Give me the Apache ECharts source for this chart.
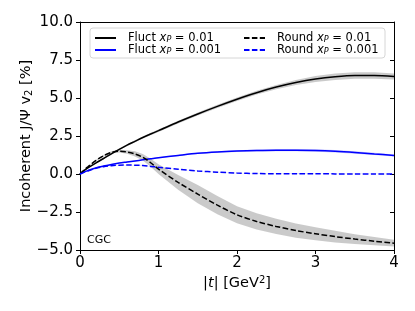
<!DOCTYPE html>
<html>
<head>
<meta charset="utf-8">
<script src="https://cdn.jsdelivr.net/npm/echarts@6/dist/echarts.min.js"></script>
<style>html,body{margin:0;padding:0;background:#fff}#c{width:415px;height:311px}</style>
</head>
<body>
<div id="c"></div>
<script>
// ---- data ----
const t =            [0, 0.05, 0.1, 0.2, 0.3, 0.4, 0.5, 0.6, 0.7, 0.8, 0.9, 1.0, 1.25, 1.5, 1.75, 2.0, 2.25, 2.5, 2.75, 3.0, 3.25, 3.5, 3.75, 4.0];
const fluct01 =      [0, 0.22, 0.40, 0.72, 1.02, 1.33, 1.62, 1.90, 2.15, 2.40, 2.63, 2.85, 3.42, 3.95, 4.45, 4.92, 5.35, 5.72, 6.02, 6.25, 6.40, 6.48, 6.48, 6.42];
const fluct01Err =   [0, 0.02, 0.03, 0.04, 0.05, 0.05, 0.06, 0.06, 0.07, 0.07, 0.08, 0.08, 0.09, 0.10, 0.10, 0.11, 0.12, 0.14, 0.17, 0.20, 0.22, 0.22, 0.21, 0.20];
const round01 =      [0, 0.25, 0.47, 0.88, 1.20, 1.42, 1.50, 1.45, 1.32, 1.10, 0.74, 0.32, -0.55, -1.32, -2.05, -2.68, -3.12, -3.45, -3.72, -3.93, -4.12, -4.28, -4.42, -4.55];
const round01Err =   [0, 0.01, 0.02, 0.04, 0.05, 0.07, 0.09, 0.12, 0.17, 0.22, 0.27, 0.32, 0.48, 0.60, 0.60, 0.56, 0.53, 0.50, 0.47, 0.43, 0.38, 0.32, 0.27, 0.22];
const fluct001 =     [0, 0.12, 0.22, 0.40, 0.52, 0.63, 0.72, 0.79, 0.86, 0.93, 1.00, 1.07, 1.22, 1.36, 1.45, 1.51, 1.55, 1.57, 1.57, 1.55, 1.50, 1.42, 1.32, 1.22];
const fluct001Err =  [0, 0.01, 0.01, 0.02, 0.02, 0.02, 0.02, 0.03, 0.03, 0.03, 0.03, 0.03, 0.04, 0.04, 0.05, 0.06, 0.07, 0.08, 0.08, 0.08, 0.08, 0.08, 0.07, 0.07];
const round001 =     [0, 0.11, 0.20, 0.37, 0.48, 0.55, 0.58, 0.59, 0.58, 0.56, 0.50, 0.44, 0.31, 0.20, 0.12, 0.06, 0.03, 0.02, 0.015, 0.01, 0.008, 0.005, 0.003, 0.0];
const round001Err =  [0, 0.01, 0.01, 0.01, 0.01, 0.01, 0.01, 0.01, 0.01, 0.01, 0.01, 0.01, 0.01, 0.01, 0.01, 0.01, 0.01, 0.01, 0.01, 0.01, 0.01, 0.01, 0.01, 0.01];
const xTicks = [0, 1, 2, 3, 4];
const yRange = [-5, 10];
const yStep = 2.5;
const annotation = 'CGC';

// ---- chart ----
const FONT = 'DejaVu Sans';
const pairs = (ys) => t.map((x, i) => [x, ys[i]]);
const SMOOTH = 0.3;

function band(id, c, e, color) {
  const data = t.map((x, i) => [x, c[i] - e[i], c[i] + e[i]]);
  return {
    type: 'custom', name: id, data: data, silent: true, z: 1, clip: true,
    encode: { x: 0, y: [1, 2] },
    renderItem: function (params, api) {
      if (params.dataIndex !== 0) return null;
      const top = [], bot = [];
      for (let i = 0; i < data.length; i++) {
        top.push(api.coord([data[i][0], data[i][2]]));
        bot.push(api.coord([data[i][0], data[i][1]]));
      }
      const pts = top.concat(bot.reverse());
      return { type: 'polygon', shape: { points: pts }, style: { fill: color, stroke: null } };
    }
  };
}
function line(name, ys, color, dashed) {
  return { type: 'line', name: name, data: pairs(ys), symbol: 'none', smooth: SMOOTH, z: 3,
    lineStyle: { color: color, width: 1.5, type: dashed ? [5.5, 2.4] : 'solid' },
    itemStyle: { color: color } };
}

const rich = {
  n: { fontFamily: FONT, fontSize: 11.5, color: '#000' },
  i: { fontFamily: FONT, fontSize: 11.5, fontStyle: 'italic', color: '#000' },
  s: { fontFamily: FONT, fontSize: 8, fontStyle: 'italic', color: '#000', verticalAlign: 'bottom', padding: [5, 0, 0, 0] },
  p: { width: 7 }
};
const legendFmt = (name) => {
  const [kind, val] = name.split('|');
  return '{p|}{n|' + kind + ' }{i|x}{s|P}{n| = ' + val + '}';
};

const names = ['Fluct|0.01', 'Fluct|0.001', 'Round|0.01', 'Round|0.001'];
const fmtY = (v) => (v < 0 ? '\u2212' : '') + Math.abs(v).toFixed(1);

const legendBase = { orient: 'vertical', top: 32, padding: 0, itemWidth: 21, itemHeight: 10, itemGap: 0,
  formatter: legendFmt, textStyle: { rich: rich, lineHeight: 11 }, z: 10, selectedMode: false,
  itemStyle: { opacity: 0 } };

const option = {
  animation: false,
  backgroundColor: '#fff',
  grid: { left: 80, right: 21, top: 22, bottom: 61, containLabel: false },
  title: { text: annotation, left: 82, top: 230, textStyle: { fontFamily: FONT, fontSize: 11, fontWeight: 'normal', color: '#000' } },
  graphic: [{ type: 'rect', shape: { x: 90, y: 28, width: 295, height: 30, r: 3 },
    style: { fill: 'rgba(255,255,255,0.8)', stroke: '#d6d6d6', lineWidth: 1 }, z: 5 }],
  legend: [
    Object.assign({ data: [names[0], names[1]], left: 94 }, legendBase),
    Object.assign({ data: [names[2], names[3]], left: 243 }, legendBase)
  ],
  xAxis: [
    { type: 'value', min: xTicks[0], max: xTicks[xTicks.length - 1], interval: 1,
      name: '{b||}{it|t}{b|| [GeV}{sup|2}{b|]}', nameLocation: 'middle', nameGap: 25, nameMoveOverlap: false,
      nameTextStyle: { rich: {
        b: { fontFamily: FONT, fontSize: 14.5, color: '#000' },
        it: { fontFamily: FONT, fontSize: 14.5, fontStyle: 'italic', color: '#000' },
        sup: { fontFamily: FONT, fontSize: 10, color: '#000', verticalAlign: 'top', padding: [0, 0, 6, 0] } } },
      axisLine: { show: true, onZero: false, lineStyle: { color: '#000', width: 1 } },
      axisTick: { show: true, length: 4, lineStyle: { color: '#000' } },
      axisLabel: { fontFamily: FONT, fontSize: 15, color: '#000', margin: 6 },
      splitLine: { show: false } },
    { type: 'value', position: 'top', min: xTicks[0], max: xTicks[xTicks.length - 1], interval: 1,
      axisLine: { show: true, onZero: false, lineStyle: { color: '#000', width: 1 } },
      axisTick: { show: false }, axisLabel: { show: false }, splitLine: { show: false } }
  ],
  yAxis: [
    { type: 'value', min: yRange[0], max: yRange[1], interval: yStep,
      name: 'Incoherent J/\u03A8 v{s|2} [%]', nameLocation: 'middle', nameRotate: 90, nameGap: 46, nameMoveOverlap: false,
      nameTextStyle: { fontFamily: FONT, fontSize: 14.5, color: '#000', rich: {
        s: { fontFamily: FONT, fontSize: 10, color: '#000', verticalAlign: 'bottom', padding: [5, 0, 0, 0] } } },
      axisLine: { show: true, onZero: false, lineStyle: { color: '#000', width: 1 } },
      axisTick: { show: true, length: 4, lineStyle: { color: '#000' } },
      axisLabel: { fontFamily: FONT, fontSize: 15, color: '#000', margin: 7, formatter: fmtY },
      splitLine: { show: false } },
    { type: 'value', position: 'right', min: yRange[0], max: yRange[1], interval: yStep,
      axisLine: { show: true, onZero: false, lineStyle: { color: '#000', width: 1 } },
      axisTick: { show: true, inside: true, length: 4, lineStyle: { color: '#000' } },
      axisLabel: { show: false }, splitLine: { show: false } }
  ],
  series: [
    band('bf1', fluct01, fluct01Err, 'rgba(128,128,128,0.42)'),
    band('br1', round01, round01Err, 'rgba(128,128,128,0.42)'),
    band('bf2', fluct001, fluct001Err, 'rgba(0,0,255,0.22)'),
    band('br2', round001, round001Err, 'rgba(0,0,255,0.22)'),
    line(names[0], fluct01, '#000000', false),
    line(names[1], fluct001, '#0000ff', false),
    line(names[2], round01, '#000000', true),
    line(names[3], round001, '#0000ff', true)
  ]
};
const chart = echarts.init(document.getElementById('c'), null, { renderer: 'canvas' });
chart.setOption(option);
</script>
</body>
</html>
